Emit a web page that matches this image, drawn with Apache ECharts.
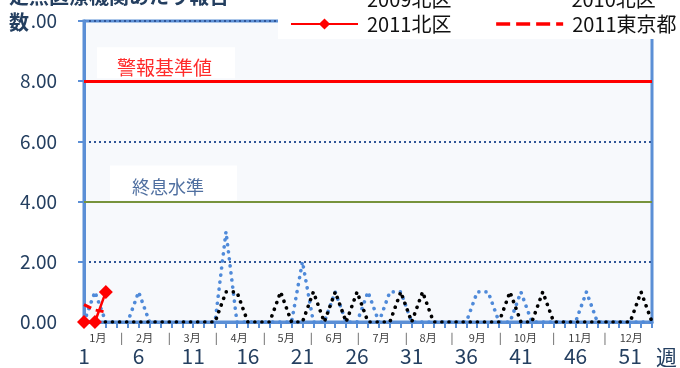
<!DOCTYPE html>
<html><head><meta charset="utf-8">
<script src="https://cdn.jsdelivr.net/npm/echarts@6/dist/echarts.min.js"></script>
<style>html,body{margin:0;padding:0;background:#fff}#c{width:680px;height:368px}</style>
</head><body><div id="c"></div>
<script>
// ---- data ----
const weeks = ['1','2','3','4','5','6','7','8','9','10','11','12','13','14','15','16','17','18','19','20',
  '21','22','23','24','25','26','27','28','29','30','31','32','33','34','35','36','37','38','39','40',
  '41','42','43','44','45','46','47','48','49','50','51','52','53'];
const s2009 = [0,1,0,0,0,1,0,0,0,0, 0,0,0,3,0,0,0,0,0,0, 2,0,0,1,0,0,1,0,1,1,
               0,0,0,0,0,0,1,1,0,0, 1,0,0,0,0,0,1,0,0,0, 0,0,0];
const s2010 = [0,0,0,0,0,0,0,0,0,0, 0,0,0,1,1,0,0,0,1,0, 0,1,0,1,0,1,0,0,0,1,
               0,1,0,0,0,0,0,0,0,1, 0,0,1,0,0,0,0,0,0,0, 0,1,0];
const s2011 = [0,0,1];
const tokyo2011 = [0.58,0.40,0.33];
const alertLevel = 8;
const endLevel = 4;
const alertText = '警報基準値';
const endText = '終息水準';
const yName = '定点医療機関あたり報告';
const yName2 = '数';
const monthLabels = ['1月','2月','3月','4月','5月','6月','7月','8月','9月','10月','11月','12月'];
const monthPos = [2.27,6.55,10.9,15.2,19.5,23.9,28.2,32.5,37.0,41.4,46.4,51.1];
const sepPos = [4.45,8.8,13.1,17.5,21.8,26.1,30.5,34.7,39.1,44.0,48.7];

const FF = '"Noto Sans CJK JP","Noto Sans",sans-serif';
const AX = '#5b8fd6';
const NAVY = '#243f60';
const BLUE = '#4f8ad9';
const noSym = {opacity:0};

const chart = echarts.init(document.getElementById('c'), null, {renderer:'canvas'});
chart.setOption({
  animation:false,
  backgroundColor:'#fff',
  textStyle:{fontFamily:FF},
  title:{
    left:9, top:-17, padding:0,
    text:'{a|'+yName+'}\n{b|'+yName2+'}',
    textStyle:{rich:{
      a:{fontSize:20,fontWeight:'bold',color:NAVY,lineHeight:26,fontFamily:FF},
      b:{fontSize:20,fontWeight:'bold',color:NAVY,lineHeight:26,fontFamily:FF,backgroundColor:'#fff',padding:[0,1,0,0]}
    }}
  },
  legend:[
    {data:[{name:'2009北区',itemStyle:noSym},{name:'2010北区',itemStyle:noSym}],
     left:278, top:-11, width:390, orient:'horizontal',
     padding:[0,0,30,12], backgroundColor:'#fff', itemWidth:67, itemHeight:14, itemGap:43, z:4,
     textStyle:{fontSize:20,color:'#111',fontFamily:FF,lineHeight:20,padding:[0,0,0,4]}},
    {data:[{name:'2011北区'},{name:'2011東京都',itemStyle:noSym,lineStyle:{type:[14,6],width:3.5,color:'#ff0000'}}],
     left:278, top:0, width:390, orient:'horizontal',
     padding:[14,0,5,12], itemWidth:67, itemHeight:14, itemGap:43, z:5,
     textStyle:{fontSize:20,color:'#111',fontFamily:FF,lineHeight:20,padding:[0,0,0,4]}}
  ],
  grid:{left:84,right:24,top:21,bottom:46,show:true,borderColor:AX,borderWidth:3,backgroundColor:'#f7f9fc'},
  xAxis:[
    {type:'category', data:weeks, boundaryGap:false,
     name:'週', nameLocation:'end', nameGap:4,
     nameTextStyle:{fontSize:21,color:NAVY,verticalAlign:'top',padding:[25,0,0,0],fontFamily:FF},
     axisLine:{lineStyle:{color:AX,width:3}},
     axisTick:{show:true,interval:0,length:6,lineStyle:{color:AX,width:2}},
     axisLabel:{interval:4,fontSize:21,color:NAVY,margin:24,fontFamily:FF},
     splitLine:{show:false}},
    {type:'value', min:1, max:53, position:'bottom',
     axisLine:{show:false}, axisTick:{show:false}, splitLine:{show:false},
     axisLabel:{customValues:monthPos.concat(sepPos), hideOverlap:false,
       formatter:function(v){const i=monthPos.indexOf(v);return i>=0?monthLabels[i]:'|';},
       fontSize:11,color:'#404040',margin:10,fontFamily:FF}}
  ],
  yAxis:{type:'value',min:0,max:10,interval:2,
    axisLine:{show:true,lineStyle:{color:AX,width:3}},
    axisTick:{show:true,length:6,lineStyle:{color:AX,width:2}},
    axisLabel:{formatter:function(v){return v.toFixed(2);},fontSize:19,color:NAVY,margin:27,fontFamily:FF},
    splitLine:{show:true,lineStyle:{color:'#2f5597',width:2,type:[2,3]}}
  },
  series:[
    {name:'2009北区',type:'line',data:s2009,symbol:'none',z:3,
     lineStyle:{color:BLUE,width:3.6,type:[0.1,7],cap:'round'},itemStyle:{color:BLUE},
     markLine:{symbol:'none',silent:true,z:6,
       data:[
        {yAxis:alertLevel,lineStyle:{color:'#ff0000',width:3,type:'solid'},
         label:{show:true,position:'insideStartTop',formatter:alertText,color:'#ff2a2a',fontSize:19,fontFamily:FF,
           backgroundColor:'#fff',padding:[11,23,1,20],distance:[13,3]}},
        {yAxis:endLevel,lineStyle:{color:'#77933c',width:2,type:'solid'},
         label:{show:true,position:'insideStartTop',formatter:endText,color:'#4f6fa0',fontSize:18,fontFamily:FF,
           backgroundColor:'#fff',padding:[13,33,4,22],distance:[26,1]}}
       ]}},
    {name:'2010北区',type:'line',data:s2010,symbol:'none',z:4,
     lineStyle:{color:'#000',width:3.6,type:[0.1,7],cap:'round'},itemStyle:{color:'#000'}},
    {name:'2011東京都',type:'line',data:tokyo2011,symbol:'none',z:5,
     lineStyle:{color:'#ff0000',width:3,type:[8,5]},itemStyle:{color:'#ff0000'}},
    {name:'2011北区',type:'line',data:s2011,symbol:'diamond',symbolSize:14,showSymbol:true,showAllSymbol:true,z:6,
     lineStyle:{color:'#ff0000',width:2.5},itemStyle:{color:'#ff0000'}}
  ]
});
</script></body></html>
